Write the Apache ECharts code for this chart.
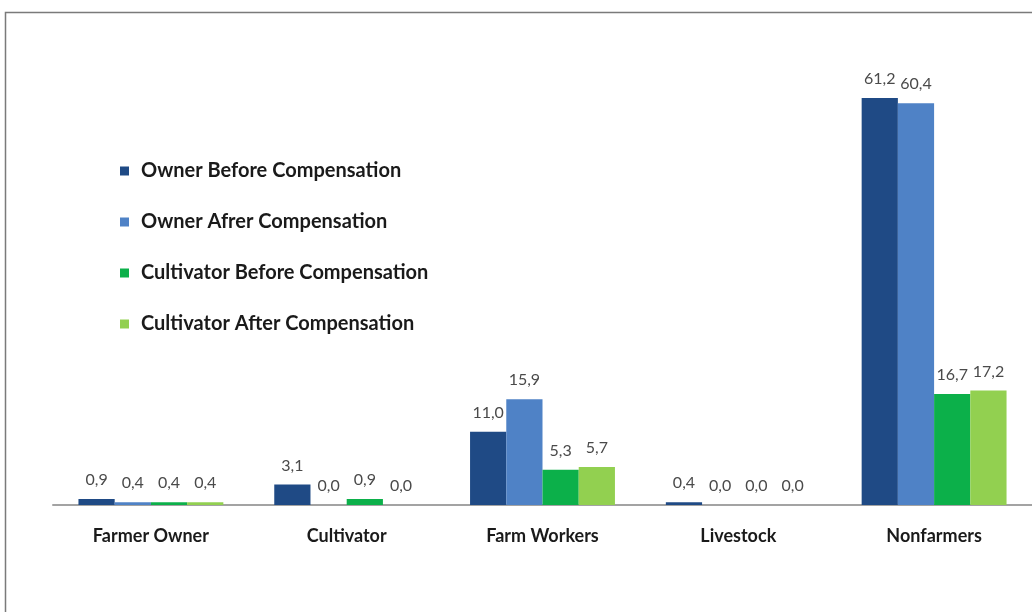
<!DOCTYPE html>
<html>
<head>
<meta charset="utf-8">
<script src="https://cdn.jsdelivr.net/npm/echarts@6/dist/echarts.min.js"></script>
<style>
  html, body { margin: 0; padding: 0; background: #fff; }
  #chart { width: 1032px; height: 612px; }
</style>
</head>
<body>
<div id="chart"></div>
<script>
// Land acquisition groups and the share of each before/after compensation
const categories = ['Farmer Owner', 'Cultivator', 'Farm Workers', 'Livestock', 'Nonfarmers'];
const seriesNames = [
  'Owner Before Compensation',
  'Owner Afrer Compensation',
  'Cultivator Before Compensation',
  'Cultivator After Compensation'
];
const ownerBefore = [0.9, 3.1, 11.0, 0.4, 61.2];
const ownerAfter = [0.4, 0.0, 15.9, 0.0, 60.4];
const cultivatorBefore = [0.4, 0.9, 5.3, 0.0, 16.7];
const cultivatorAfter = [0.4, 0.0, 5.7, 0.0, 17.2];
const seriesColors = ['#1f4a85', '#4f82c6', '#0cb04a', '#92d050'];

const seriesValues = [ownerBefore, ownerAfter, cultivatorBefore, cultivatorAfter];

const chart = echarts.init(document.getElementById('chart'), null, { renderer: 'canvas' });

const series = seriesValues.map((vals, i) => ({
  name: seriesNames[i],
  type: 'bar',
  data: vals,
  barGap: '0%',
  barCategoryGap: '26%',
  itemStyle: { color: seriesColors[i] },
  label: {
    show: true,
    position: 'top',
    distance: 11,
    fontFamily: 'Lato',
    fontSize: 16,
    color: '#4a4a4a',
    formatter: p => p.value.toFixed(1).replace('.', ',')
  }
}));

chart.setOption({
  animation: false,
  backgroundColor: '#ffffff',
  graphic: [{
    type: 'rect',
    shape: { x: 5.5, y: 12.5, width: 1100, height: 700 },
    style: { fill: 'none', stroke: '#7a7a7a', lineWidth: 1.5 },
    silent: true
  }],
  legend: {
    orient: 'vertical',
    left: 115,
    top: 154,
    itemWidth: 9,
    itemHeight: 9,
    itemGap: 27,
    icon: 'rect',
    data: seriesNames,
    textStyle: {
      fontFamily: 'Lato',
      fontWeight: 'bold',
      fontSize: 20,
      lineHeight: 24,
      color: '#1a1a1a',
      padding: [0, 0, 0, 7]
    }
  },
  grid: { left: 53, right: -3, top: 39.5, bottom: 107, containLabel: false },
  xAxis: {
    type: 'category',
    data: categories,
    axisLine: { lineStyle: { color: '#a3a3a3', width: 2 } },
    axisTick: { show: false },
    axisLabel: {
      margin: 22,
      fontFamily: 'Lato',
      fontWeight: 'bold',
      fontSize: 18,
      color: '#1a1a1a'
    }
  },
  yAxis: {
    type: 'value',
    min: 0,
    max: 70,
    show: false,
    splitLine: { show: false }
  },
  series: series
});
</script>
</body>
</html>
